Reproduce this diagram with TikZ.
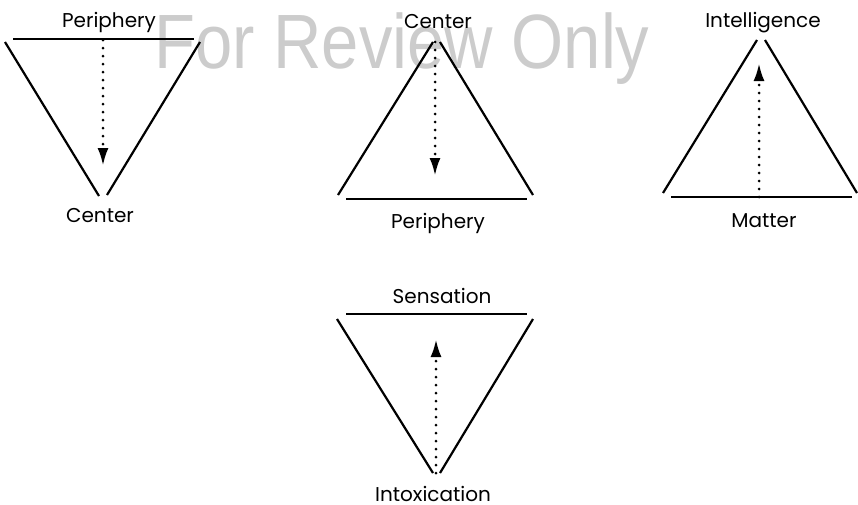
\documentclass[tikz,border=0pt]{standalone}
\usepackage{fontspec}
\setmainfont{Poppins}
\newfontfamily\markfont{Liberation Sans}
\usetikzlibrary{arrows.meta}
\tikzset{
  side/.style={line width=2.2pt},
  bar/.style={line width=2.6pt},
  flow/.style={line width=3pt, line cap=round, dash pattern=on 0pt off 8pt,
    -{Latex[length=18pt,width=11pt]}},
  lbl/.style={font=\fontsize{20}{24}\selectfont, anchor=base, inner sep=0pt}
}
\begin{document}
\begin{tikzpicture}[x=1pt,y=-1pt]
  \useasboundingbox (0,0) rectangle (858,504);
  \node[anchor=base, inner sep=0pt, text=black!20,
    font=\markfont\fontsize{77}{80}\selectfont] (mark) at (402,68)
    {\scalebox{0.87}[1]{For Review Only}};
  % periphery -> center
  \draw[bar] (13,39) -- (194,39);
  \draw[side] (5,42) -- (99,196) (200,42) -- (107,195);
  \coordinate (perA) at (103,40);
  \coordinate (cenA) at (103,166);
  \draw[flow] (perA) -- (cenA);
  \node[lbl] (periA) at (109,27) {Periphery};
  \node[lbl] (centA) at (100,222) {Center};
  % center -> periphery
  \draw[side] (433,42) -- (338,195) (440,42) -- (533,195);
  \draw[bar] (346,199) -- (527,199);
  \coordinate (cenB) at (435,42);
  \coordinate (perB) at (435,176);
  \draw[flow] (cenB) -- (perB);
  \node[lbl] (centB) at (438,28) {Center};
  \node[lbl] (periB) at (438,228) {Periphery};
  % matter -> intelligence
  \draw[side] (757,40) -- (663,193) (765,40) -- (857,193);
  \draw[bar] (671,197) -- (852,197);
  \coordinate (matC) at (759,197);
  \coordinate (intC) at (759,63);
  \draw[flow] (matC) -- (intC);
  \node[lbl] (intel) at (763,27) {Intelligence};
  \node[lbl] (matter) at (764,227) {Matter};
  % intoxication -> sensation
  \draw[bar] (346,314) -- (527,314);
  \draw[side] (337,319) -- (433,473) (533,319) -- (440,473);
  \coordinate (toxD) at (436,473);
  \coordinate (senD) at (436,339);
  \draw[flow] (toxD) -- (senD);
  \node[lbl] (sens) at (442,303) {Sensation};
  \node[lbl, text depth=0pt] (intox) at (433,501) {Intoxication};
\end{tikzpicture}
\end{document}
